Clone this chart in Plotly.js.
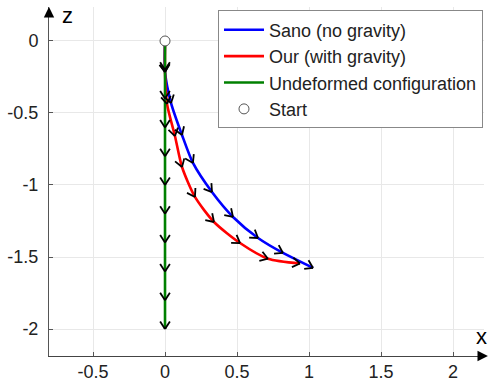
<!DOCTYPE html>
<html>
<head>
<meta charset="utf-8">
<script src="https://cdn.plot.ly/plotly-3.0.1.min.js"></script>
<style>html,body{margin:0;padding:0;background:#fff;}#chart{width:489px;height:385px;}</style>
</head>
<body>
<div id="chart"></div>
<script>
// ---- data ----
const sanoX = [0, 0, 0.042, 0.118, 0.194, 0.326, 0.472, 0.646, 0.819, 1.028];
const sanoZ = [0, -0.215, -0.431, -0.653, -0.847, -1.049, -1.222, -1.368, -1.472, -1.576];
const ourX  = [0, 0, 0.014, 0.069, 0.118, 0.208, 0.340, 0.521, 0.715, 0.9375];
const ourZ  = [0, -0.215, -0.4375, -0.660, -0.875, -1.083, -1.257, -1.403, -1.512, -1.545];
const undefX = [0, 0, 0, 0, 0, 0, 0, 0, 0, 0, 0];
const undefZ = [0, -0.2, -0.4, -0.6, -0.8, -1.0, -1.2, -1.4, -1.6, -1.8, -2.0];
const startX = [0];
const startZ = [0];
const xTickVals = [-0.5, 0, 0.5, 1, 1.5, 2];
const xTickText = ['-0.5', '0', '0.5', '1', '1.5', '2'];
const yTickVals = [0, -0.5, -1, -1.5, -2];
const yTickText = ['0', '-0.5', '-1', '-1.5', '-2'];
const seriesNames = ['Sano (no gravity)', 'Our (with gravity)', 'Undeformed configuration', 'Start'];

// chevron arrow heads along a curve (tip at each node after the first)
function chevrons(xs, zs) {
  const L = 0.062, a = 33 * Math.PI / 180;
  const ox = [], oz = [];
  for (let i = 1; i < xs.length; i++) {
    const px = xs[i], pz = zs[i];
    const nx = i < xs.length - 1 ? xs[i + 1] : px;
    const nz = i < zs.length - 1 ? zs[i + 1] : pz;
    let dx = nx - xs[i - 1], dz = nz - zs[i - 1];
    const n = Math.hypot(dx, dz); dx /= n; dz /= n;
    const bx = -dx, bz = -dz;
    for (const s of [a, -a]) {
      const wx = bx * Math.cos(s) - bz * Math.sin(s);
      const wz = bx * Math.sin(s) + bz * Math.cos(s);
      ox.push(px + L * wx); oz.push(pz + L * wz);
      ox.push(px); oz.push(pz);
      ox.push(null); oz.push(null);
    }
  }
  return {x: ox, y: oz};
}

const arrows = [chevrons(sanoX, sanoZ), chevrons(ourX, ourZ), chevrons(undefX, undefZ)];
const arrowX = [].concat(...arrows.map(a => a.x));
const arrowY = [].concat(...arrows.map(a => a.y));

const traces = [
  {x: sanoX, y: sanoZ, mode: 'lines', name: seriesNames[0], line: {color: '#0000ff', width: 2.6, shape: 'spline', smoothing: 0.7}},
  {x: ourX, y: ourZ, mode: 'lines', name: seriesNames[1], line: {color: '#ff0000', width: 2.6, shape: 'spline', smoothing: 0.7}},
  {x: undefX, y: undefZ, mode: 'lines', name: seriesNames[2], line: {color: '#008000', width: 2.6}},
  {x: arrowX, y: arrowY, mode: 'lines', showlegend: false, hoverinfo: 'skip', line: {color: '#000000', width: 1.8}},
  {x: startX, y: startZ, mode: 'markers', name: seriesNames[3], marker: {symbol: 'circle', size: 10, color: '#ffffff', line: {color: '#555555', width: 1}}}
];

const font = {family: 'Liberation Sans, Arial, sans-serif', size: 18, color: '#222222'};

const layout = {
  width: 489, height: 385,
  margin: {l: 49, r: 5, t: 7, b: 29, pad: 0},
  paper_bgcolor: '#ffffff', plot_bgcolor: '#ffffff',
  font: font,
  showlegend: true,
  legend: {
    x: 0.3885, y: 0.99, xanchor: 'left', yanchor: 'top',
    bgcolor: '#ffffff', bordercolor: '#888888', borderwidth: 1,
    font: font, itemwidth: 40, tracegroupgap: 0
  },
  xaxis: {
    range: [-0.8056, 2.215], tickvals: xTickVals, ticktext: xTickText,
    showgrid: true, gridcolor: '#e8e8e8', gridwidth: 1, zeroline: false,
    showline: true, linecolor: '#444444', linewidth: 1,
    ticks: 'inside', ticklen: 4, tickcolor: '#555555',
    ticklabelstandoff: -1, tickfont: font, fixedrange: true
  },
  yaxis: {
    range: [-2.1875, 0.236], tickvals: yTickVals, ticktext: yTickText,
    showgrid: true, gridcolor: '#e8e8e8', gridwidth: 1, zeroline: false,
    showline: true, linecolor: '#555555', linewidth: 1,
    ticks: 'inside', ticklen: 4, tickcolor: '#555555',
    ticklabelstandoff: 6, tickfont: font, fixedrange: true
  },
  annotations: [
    {xref: 'paper', yref: 'paper', x: 1.009, y: 0, ax: -6, ay: 0,
     text: '', showarrow: true, arrowhead: 2, arrowsize: 1.6, arrowwidth: 1.3, arrowcolor: '#000000'},
    {xref: 'paper', yref: 'paper', x: 0, y: 1.0, ax: 0, ay: 6, text: '', showarrow: true,
     arrowhead: 2, arrowsize: 1.6, arrowwidth: 1.3, arrowcolor: '#000000'},
    {xref: 'paper', yref: 'paper', x: 0.042, y: 0.975, text: 'z', showarrow: false,
     xanchor: 'center', yanchor: 'middle', font: {family: 'Liberation Sans, Arial, sans-serif', size: 22, color: '#000000'}},
    {xref: 'paper', yref: 'paper', x: 0.995, y: 0.055, text: 'x', showarrow: false,
     xanchor: 'center', yanchor: 'middle', font: {family: 'Liberation Sans, Arial, sans-serif', size: 22, color: '#000000'}}
  ]
};

Plotly.newPlot('chart', traces, layout, {staticPlot: true, displayModeBar: false});
</script>
</body>
</html>
